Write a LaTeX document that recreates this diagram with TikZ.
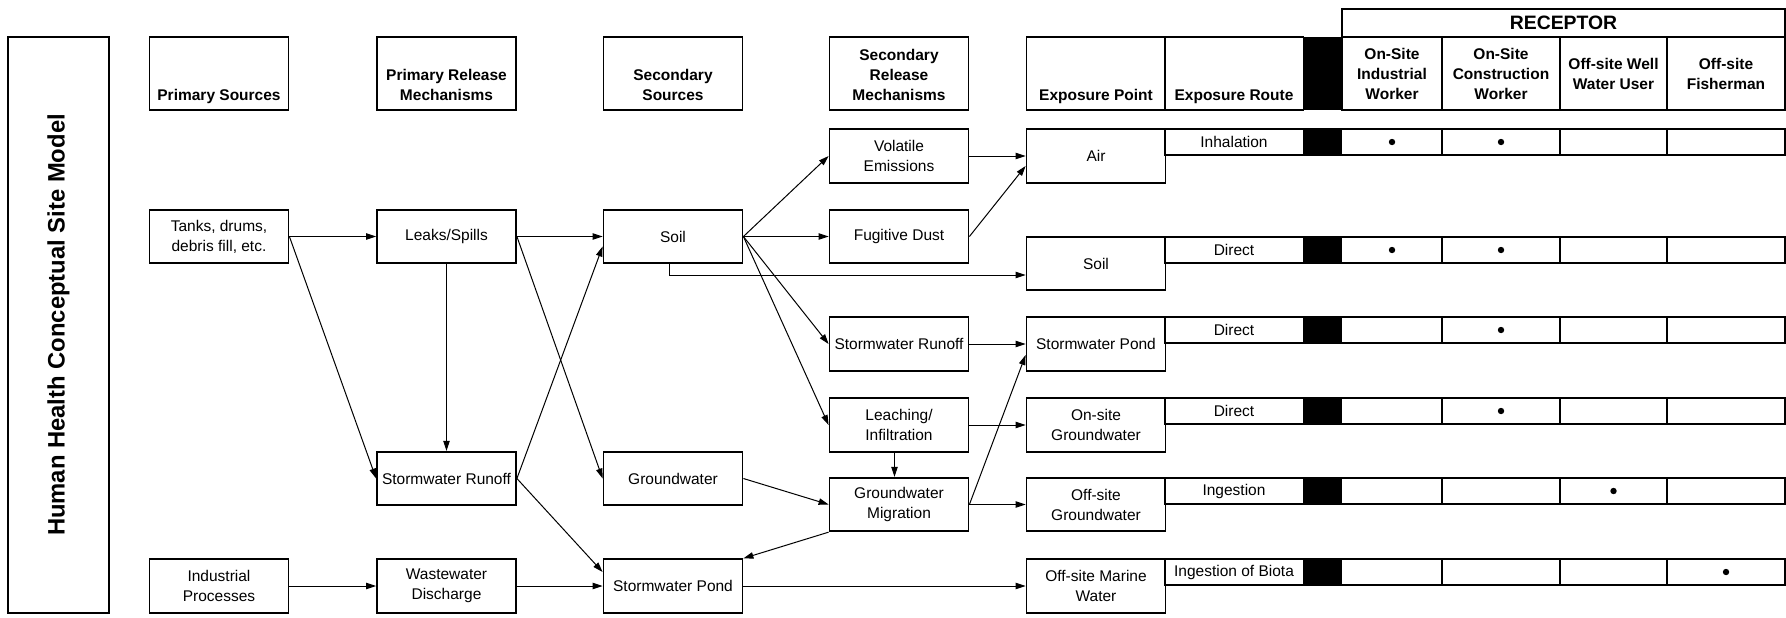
\documentclass[tikz,border=0pt]{standalone}
\usepackage{fontspec}
\setmainfont{Liberation Sans}
\usetikzlibrary{arrows.meta}

\begin{document}
\begin{tikzpicture}[x=0.5pt,y=0.5pt,
  every node/.style={font=\fontsize{7.75}{10}\selectfont},
  box/.style={draw, line width=0.9pt, minimum width=69.5pt, minimum height=26.75pt, inner sep=0pt, align=center},
  hdr/.style={box, minimum height=36.5pt, font=\bfseries\fontsize{7.75}{10}\selectfont},
  rcp/.style={hdr, minimum width=#1},
  cell/.style={line width=0.9pt},
  dot/.style={fill=black},
  arr/.style={-{Triangle[length=5pt,width=3.2pt]}, line width=0.5pt}]
\useasboundingbox (0,0) rectangle (1786,-617);

% title
\node[draw, line width=0.9pt, rotate=90, minimum width=288pt, minimum height=50.5pt,
  font=\bfseries\fontsize{11.9}{14}\selectfont] (title) at (58.5,-325) {Human Health Conceptual Site Model};

% column headers
\node[hdr] (hPS) at (219,-73.5) {\parbox[c][29.7pt][b]{68pt}{\centering Primary Sources\strut}};
\node[hdr] (hPR) at (446.5,-73.5) {\parbox[c][29.7pt][b]{68pt}{\centering Primary Release\\Mechanisms\strut}};
\node[hdr] (hSS) at (673,-73.5) {\parbox[c][29.7pt][b]{68pt}{\centering Secondary\\Sources\strut}};
\node[hdr] (hSR) at (899,-73.5) {\parbox[c][29.7pt][b]{68pt}{\centering Secondary\\Release\\Mechanisms\strut}};
\node[hdr] (hEP) at (1096,-73.5) {\parbox[c][29.7pt][b]{68pt}{\centering Exposure Point\strut}};
\node[hdr] (hER) at (1234,-73.5) {\parbox[c][29.7pt][b]{68pt}{\centering Exposure Route\strut}};
\fill (1303,-37) rectangle (1342,-110);
\node[rcp=50pt] (hIW) at (1392,-73.5) {On-Site\\Industrial\\Worker};
\node[rcp=59pt] (hCW) at (1501,-73.5) {On-Site\\Construction\\Worker};
\node[rcp=53.5pt] (hWU) at (1613.5,-73.5) {Off-site Well\\Water User};
\node[rcp=59pt] (hFM) at (1726,-73.5) {Off-site\\Fisherman};
\node[box, minimum width=221.5pt, minimum height=14pt, font=\bfseries\fontsize{9.7}{11}\selectfont] (recep) at (1563.5,-23) {RECEPTOR};

% primary sources / release
\node[box] (tanks) at (219,-236.5) {Tanks, drums,\\debris fill, etc.};
\node[box] (indproc) at (219,-586) {Industrial\\Processes};
\node[box] (leaks) at (446.5,-236.5) {Leaks/Spills};
\node[box] (runoffA) at (446.5,-478.5) {Stormwater Runoff};
\node[box] (wastew) at (446.5,-586) {Wastewater\\Discharge};

% secondary sources / release
\node[box] (soilA) at (673,-236.5) {Soil};
\node[box] (gwA) at (673,-478.5) {Groundwater};
\node[box] (pondA) at (673,-586) {Stormwater Pond};
\node[box] (volat) at (899,-156) {Volatile\\Emissions};
\node[box] (dust) at (899,-236.5) {Fugitive Dust};
\node[box] (runoffB) at (899,-344) {Stormwater Runoff};
\node[box] (leach) at (899,-425) {Leaching/\\Infiltration};
\node[box] (gwmig) at (899,-504.5) {Groundwater\\Migration};

% exposure points
\node[box] (air) at (1096,-156) {Air};
\node[box] (soilB) at (1096,-263.5) {Soil};
\node[box] (pondB) at (1096,-344) {Stormwater Pond};
\node[box] (gwon) at (1096,-425) {On-site\\Groundwater};
\node[box] (gwoff) at (1096,-504.5) {Off-site\\Groundwater};
\node[box] (marine) at (1096,-586) {Off-site Marine\\Water};

% exposure routes and receptors
\fill (1303,-129) rectangle (1342,-155);
\draw[cell] (1165,-129) rectangle (1785,-155) (1442,-129) -- (1442,-155) (1560,-129) -- (1560,-155) (1667,-129) -- (1667,-155);
\node (rtInh) at (1234,-142) {Inhalation};
\fill[dot] (1392,-142) circle (3.2) (1501,-142) circle (3.2);

\fill (1303,-237) rectangle (1342,-263);
\draw[cell] (1165,-237) rectangle (1785,-263) (1442,-237) -- (1442,-263) (1560,-237) -- (1560,-263) (1667,-237) -- (1667,-263);
\node (rtSoil) at (1234,-250) {Direct};
\fill[dot] (1392,-250) circle (3.2) (1501,-250) circle (3.2);

\fill (1303,-317) rectangle (1342,-343);
\draw[cell] (1165,-317) rectangle (1785,-343) (1442,-317) -- (1442,-343) (1560,-317) -- (1560,-343) (1667,-317) -- (1667,-343);
\node (rtPond) at (1234,-330) {Direct};
\fill[dot] (1501,-330) circle (3.2);

\fill (1303,-398) rectangle (1342,-424);
\draw[cell] (1165,-398) rectangle (1785,-424) (1442,-398) -- (1442,-424) (1560,-398) -- (1560,-424) (1667,-398) -- (1667,-424);
\node (rtOnGW) at (1234,-411) {Direct};
\fill[dot] (1501,-411) circle (3.2);

\fill (1303,-478) rectangle (1342,-504);
\draw[cell] (1165,-478) rectangle (1785,-504) (1442,-478) -- (1442,-504) (1560,-478) -- (1560,-504) (1667,-478) -- (1667,-504);
\node (rtOffGW) at (1234,-491) {Ingestion};
\fill[dot] (1613.5,-491) circle (3.2);

\fill (1303,-559) rectangle (1342,-585);
\draw[cell] (1165,-559) rectangle (1785,-585) (1442,-559) -- (1442,-585) (1560,-559) -- (1560,-585) (1667,-559) -- (1667,-585);
\node (rtBiota) at (1234,-572) {Ingestion of Biota};
\fill[dot] (1726,-572) circle (3.2);

% pathways
\draw[arr] (tanks.east) -- (leaks.west);
\draw[arr] (tanks.east) -- (runoffA.west);
\draw[arr] (indproc.east) -- (wastew.west);
\draw[arr] (leaks.south) -- (runoffA.north);
\draw[arr] (leaks.east) -- (soilA.west);
\draw[arr] (leaks.east) -- (gwA.west);
\draw[arr] (runoffA.east) -- ([yshift=-5pt]soilA.west);
\draw[arr] (runoffA.east) -- ([yshift=7pt]pondA.west);
\draw[arr] (wastew.east) -- (pondA.west);
\draw[arr] (soilA.east) -- (volat.west);
\draw[arr] (soilA.east) -- (dust.west);
\draw[arr] (soilA.east) -- (runoffB.west);
\draw[arr] (soilA.east) -- (leach.west);
\draw[arr] ([xshift=-2pt]soilA.south) |- ([yshift=-5.75pt]soilB.west);
\draw[arr] (gwA.east) -- (gwmig.west);
\draw[arr] (gwmig.south west) -- (pondA.north east);
\draw[arr] (pondA.east) -- (marine.west);
\draw[arr] (volat.east) -- (air.west);
\draw[arr] (dust.east) -- ([yshift=-5pt]air.west);
\draw[arr] (runoffB.east) -- (pondB.west);
\draw[arr] (leach.east) -- (gwon.west);
\draw[arr] ([xshift=-2.25pt]leach.south) -- ([xshift=-2.25pt]gwmig.north);
\draw[arr] (gwmig.east) -- ([yshift=-5.5pt]pondB.west);
\draw[arr] (gwmig.east) -- (gwoff.west);
\end{tikzpicture}
\end{document}
